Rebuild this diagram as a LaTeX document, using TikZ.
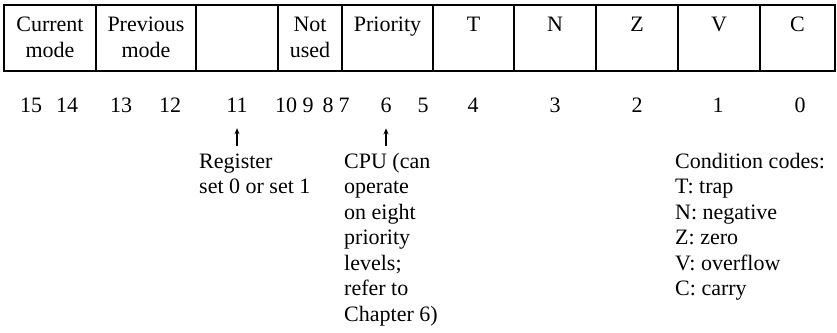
\documentclass[tikz,border=0pt]{standalone}
\usepackage{fontspec}
\setmainfont{Liberation Serif}
\usetikzlibrary{arrows.meta}

\begin{document}
\begin{tikzpicture}[x=1pt,y=-1pt,>={Stealth[length=6pt,width=5pt]},
  field/.style={draw,line width=1.6pt,minimum height=66pt,inner sep=0pt},
  lbl/.style={inner sep=0pt,align=center,anchor=north,yshift=-9pt,font=\fontsize{22}{26}\selectfont},
  num/.style={inner sep=0pt,anchor=base,font=\fontsize{22}{26}\selectfont},
  note/.style={inner sep=0pt,align=left,anchor=north west,font=\fontsize{22}{25.5}\selectfont},
  ptr/.style={->,line width=1.2pt,shorten >=16pt}]
  \useasboundingbox (0,0) rectangle (837,332);

  % the status word
  \node[field,minimum width=92pt] (cur) at (50,38) {};
  \node[field,minimum width=100pt] (prev) at (146,38) {};
  \node[field,minimum width=82pt] (rset) at (237,38) {};
  \node[field,minimum width=64pt] (nused) at (310,38) {};
  \node[field,minimum width=91pt] (prio) at (387.5,38) {};
  \node[field,minimum width=81pt] (ft) at (473.5,38) {};
  \node[field,minimum width=82pt] (fn) at (555,38) {};
  \node[field,minimum width=82pt] (fz) at (637,38) {};
  \node[field,minimum width=82pt] (fv) at (719,38) {};
  \node[field,minimum width=75pt] (fc) at (797.5,38) {};

  \node[lbl] (cur-t) at (cur.north) {\strut Current\\mode};
  \node[lbl] (prev-t) at (prev.north) {\strut Previous\\mode};
  \node[lbl] (nused-t) at (nused.north) {\strut Not\\used};
  \node[lbl] (prio-t) at (prio.north) {\strut Priority};
  \node[lbl] (ft-t) at (ft.north) {\strut T};
  \node[lbl] (fn-t) at (fn.north) {\strut N};
  \node[lbl] (fz-t) at (fz.north) {\strut Z};
  \node[lbl] (fv-t) at (fv.north) {\strut V};
  \node[lbl] (fc-t) at (fc.north) {\strut C};

  % bit numbers
  \node[num] (b15) at (31,112) {15};
  \node[num] (b14) at (67,112) {14};
  \node[num] (b13) at (121,112) {13};
  \node[num] (b12) at (170,112) {12};
  \node[num] (b11) at (237,112) {11};
  \node[num] (b10) at (286,112) {10};
  \node[num] (b9) at (308,112) {9};
  \node[num] (b8) at (328,112) {8};
  \node[num] (b7) at (344,112) {7};
  \node[num] (b6) at (386,112) {6};
  \node[num] (b5) at (423,112) {5};
  \node[num] (b4) at (473,112) {4};
  \node[num] (b3) at (555,112) {3};
  \node[num] (b2) at (637,112) {2};
  \node[num] (b1) at (718,112) {1};
  \node[num] (b0) at (800,112) {0};

  \coordinate (p11) at (237,146);
  \coordinate (p6) at (386,146);
  \draw[ptr] (p11) -- (b11);
  \draw[ptr] (p6) -- (b6);

  \node[note] (rnote) at (199,150) {\strut Register\\set 0 or set 1};
  \node[note] (pnote) at (344,150) {\strut CPU (can\\operate\\on eight\\priority\\levels;\\refer to\\Chapter 6)};
  \node[note] (cnote) at (675,150) {\strut Condition codes:\\T: trap\\N: negative\\Z: zero\\V: overflow\\C: carry};
\end{tikzpicture}
\end{document}
